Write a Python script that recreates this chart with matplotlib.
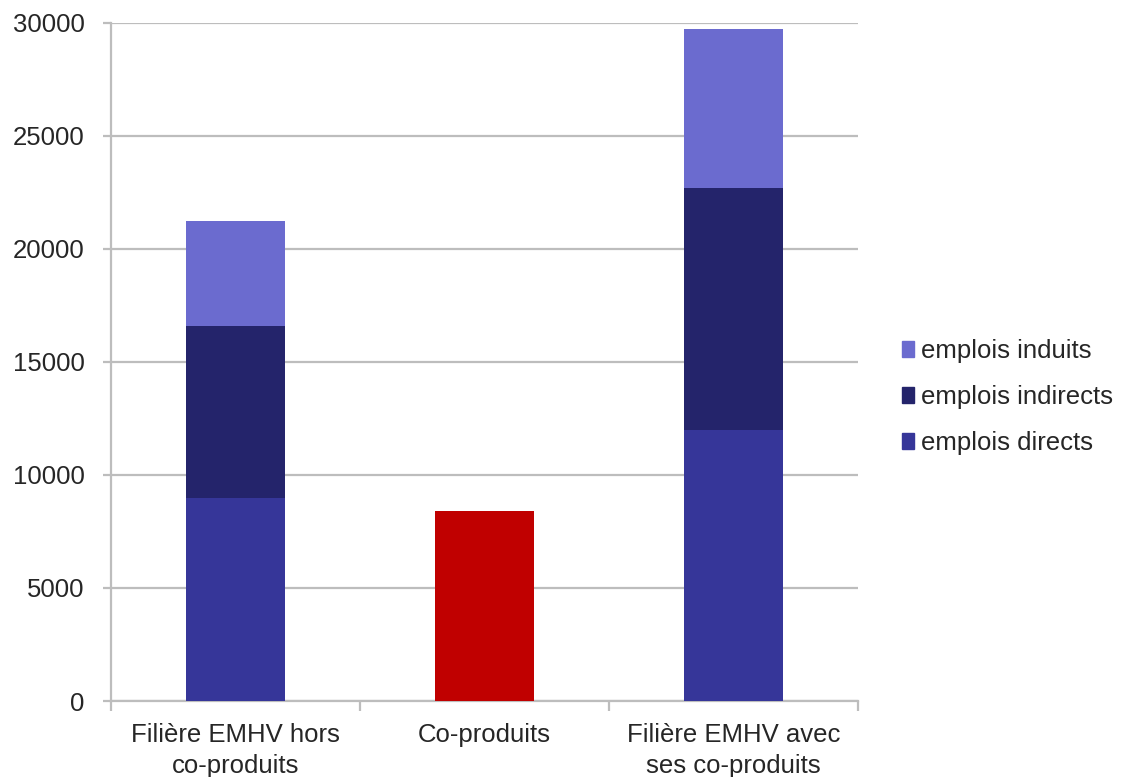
import matplotlib
matplotlib.use("Agg")
import matplotlib.pyplot as plt
from matplotlib.patches import Patch

plt.rcParams['font.family'] = ['Liberation Sans', 'DejaVu Sans']

categories = ["Filière EMHV hors\nco-produits", "Co-produits", "Filière EMHV avec\nses co-produits"]
emplois_directs = [9000, 0, 12000]
emplois_indirects = [7600, 0, 10700]
emplois_induits = [4650, 0, 7000]
co_produits = [0, 8420, 0]

col_directs = "#363699"
col_indirects = "#24246B"
col_induits = "#6B6BCF"
col_co = "#C00000"
grid_col = "#BDBDBD"
text_col = "#262626"
fs = 18.5

fig = plt.figure(figsize=(11.22, 7.77), dpi=100)
ax = fig.add_axes([0.0989, 0.0978, 0.666, 0.873])

x = list(range(len(categories)))
w = 0.4
bottom2 = [a + b for a, b in zip(emplois_directs, emplois_indirects)]
ax.bar(x, emplois_directs, w, color=col_directs, zorder=3)
ax.bar(x, emplois_indirects, w, bottom=emplois_directs, color=col_indirects, zorder=3)
ax.bar(x, emplois_induits, w, bottom=bottom2, color=col_induits, zorder=3)
ax.bar(x, co_produits, w, color=col_co, zorder=3)

ax.set_xlim(-0.5, 2.5)
ax.set_ylim(0, 30000)
ax.set_yticks(range(0, 30001, 5000))
ax.yaxis.grid(True, color=grid_col, linewidth=1.6, zorder=0)

for s in ["top", "right"]:
    ax.spines[s].set_visible(False)
for s in ["left", "bottom"]:
    ax.spines[s].set_color(grid_col)
    ax.spines[s].set_linewidth(1.6)

ax.tick_params(axis="y", length=6, width=1.6, color=grid_col, labelsize=fs,
               labelcolor=text_col, pad=13)
ax.set_xticks(x)
ax.set_xticklabels(categories, fontsize=fs, color=text_col, linespacing=1.38)
ax.tick_params(axis="x", length=0, pad=16)
ax.set_xticks([-0.5, 0.5, 1.5, 2.5], minor=True)
ax.tick_params(axis="x", which="minor", length=7, width=1.6, color=grid_col)

handles = [Patch(color=col_induits, label="emplois induits"),
           Patch(color=col_indirects, label="emplois indirects"),
           Patch(color=col_directs, label="emplois directs")]
fig.legend(handles=handles, loc="center left", bbox_to_anchor=(0.783, 0.489),
           frameon=False, fontsize=fs, handlelength=0.5, handleheight=0.55,
           handletextpad=0.25, labelspacing=0.86, labelcolor=text_col)

fig.savefig("out.png", dpi=100)
